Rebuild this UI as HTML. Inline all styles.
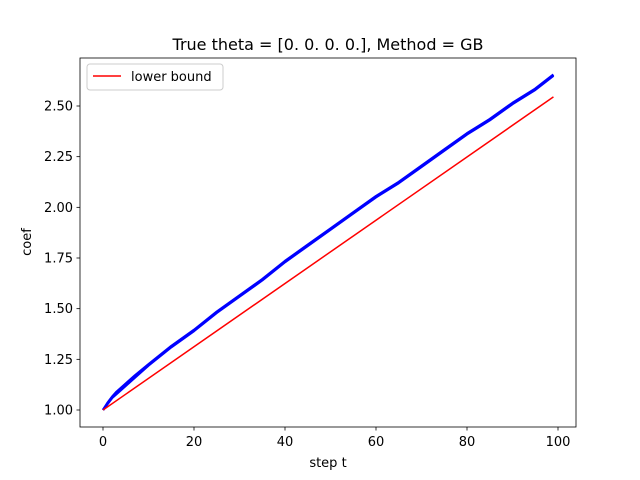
<!DOCTYPE html>
<html><head><meta charset="utf-8"><style>body{margin:0;background:#fff}svg{display:block;font-family:"DejaVu Sans","Liberation Sans",sans-serif}</style></head>
<body>
<svg id="chart" width="640" height="480" xmlns="http://www.w3.org/2000/svg">
<rect width="640" height="480" fill="#fff"/>
<g id="plot"></g>
</svg>
<script>
const steps=[0,1,2,3,5,7,10,15,20,25,30,35,40,45,50,55,60,65,70,75,80,85,90,95,99];
const coefA=[1.0,1.03,1.06,1.08,1.12,1.16,1.22,1.31,1.39,1.48,1.56,1.64,1.73,1.81,1.89,1.97,2.05,2.12,2.20,2.28,2.36,2.43,2.51,2.58,2.65];
const coefB=[1.0,1.035,1.065,1.09,1.13,1.17,1.225,1.315,1.395,1.485,1.565,1.645,1.735,1.815,1.895,1.975,2.055,2.125,2.205,2.285,2.365,2.435,2.515,2.585,2.655];
const boundSteps=[0,99];
const boundVals=[1.0,2.545];
const yTicks=[1.00,1.25,1.50,1.75,2.00,2.25,2.50];
const xTicks=[0,20,40,60,80,100];
const L=80,R=576,T=58,B=427;
const X=v=>103+v*(558-103)/100;
const Y=v=>410-(v-1)*(410-106)/1.5;
const NS='http://www.w3.org/2000/svg';
const g=document.getElementById('plot');
function mk(tag,a){const e=document.createElementNS(NS,tag);for(const k in a)e.setAttribute(k,a[k]);g.appendChild(e);return e;}
function line(xs,ys,col,w,name){
  const p=mk('polyline',{points:xs.map((x,i)=>X(x)+','+Y(ys[i])).join(' '),fill:'none',stroke:col,'stroke-width':w,'stroke-linejoin':'round'});
  
  
}
line(steps,coefA,'#0000ff',2.5,'coef-line-a');
line(steps,coefB,'#0000ff',2.5,'coef-line-b');
line(boundSteps,boundVals,'#ff0000',1.5,'lower-bound-line');
const fr=mk('rect',{x:L,y:T,width:R-L,height:B-T,fill:'none',stroke:'#000','stroke-width':0.8});


xTicks.forEach(t=>{
  mk('line',{x1:X(t),x2:X(t),y1:B,y2:B+3.5,stroke:'#000','stroke-width':0.8});
  const tx=mk('text',{x:X(t),y:B+19,'font-size':13,'text-anchor':'middle'});tx.textContent=t;
  
  
});
yTicks.forEach(t=>{
  mk('line',{x1:L-3.5,x2:L,y1:Y(t),y2:Y(t),stroke:'#000','stroke-width':0.8});
  const tx=mk('text',{x:L-7,y:Y(t)+4.5,'font-size':13,'text-anchor':'end'});tx.textContent=t.toFixed(2);
  
  
});
let e=mk('text',{x:328,y:467,'font-size':13,'text-anchor':'middle'});e.textContent='step t';


e=mk('text',{x:31,y:242,'font-size':13,'text-anchor':'middle',transform:'rotate(-90 31 242)'});e.textContent='coef';


e=mk('text',{x:328,y:50,'font-size':16,'text-anchor':'middle'});e.textContent='True theta = [0. 0. 0. 0.], Method = GB';


e=mk('rect',{x:87,y:64,width:136,height:26,rx:3,fill:'#fff',stroke:'#ccc','stroke-width':1});


mk('line',{x1:93,x2:121,y1:76,y2:76,stroke:'#ff0000','stroke-width':1.5});
e=mk('text',{x:131,y:81,'font-size':13});e.textContent='lower bound';


</script>
</body></html>
